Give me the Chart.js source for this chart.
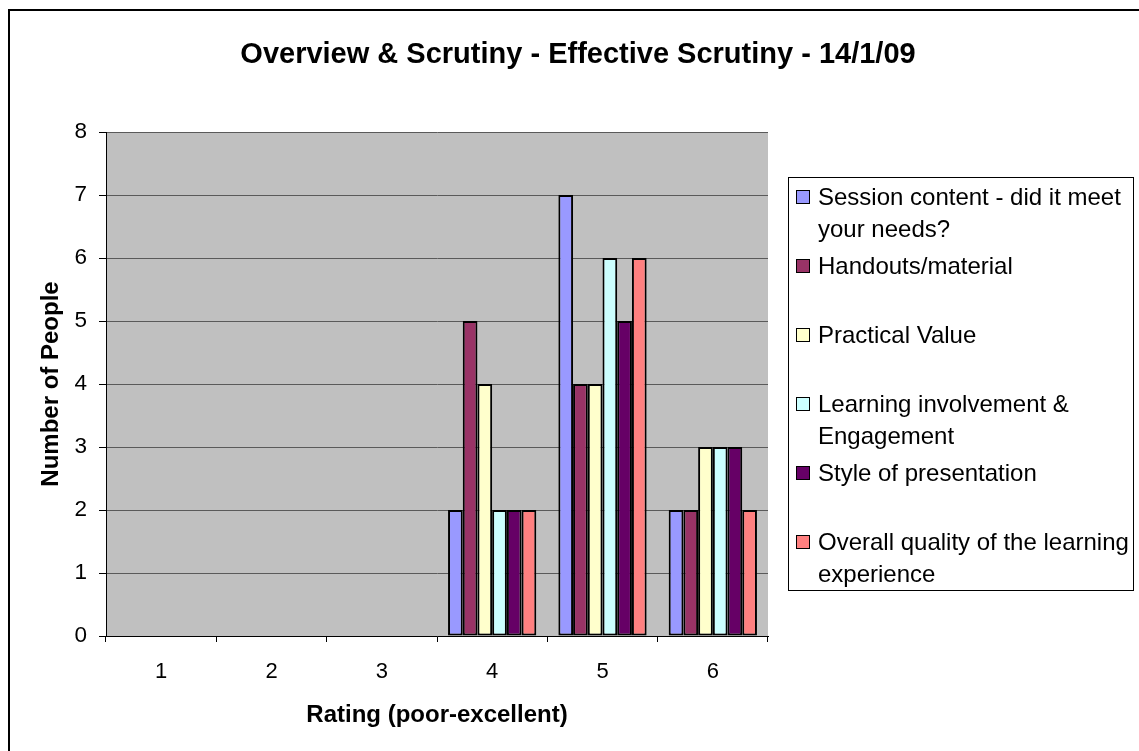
<!DOCTYPE html>
<html>
<head>
<meta charset="utf-8">
<script src="https://cdn.jsdelivr.net/npm/chart.js@4.4.1/dist/chart.umd.min.js"></script>
<style>
html,body{margin:0;padding:0;background:#fff;}
#wrap{position:relative;width:1139px;height:751px;overflow:hidden;}
#c{position:absolute;left:0;top:0;}
#legend{position:absolute;left:788px;top:177px;width:346px;height:414px;border:1px solid #000;box-sizing:border-box;background:#fff;font-family:"Liberation Sans",Arial,sans-serif;font-size:24px;color:#000;}
.item{position:absolute;left:29px;width:318px;line-height:32px;}
.mk{position:absolute;left:-22px;top:9px;width:12px;height:12px;border:1px solid #000;}
</style>
</head>
<body>
<div id="wrap">
<canvas id="c" width="1139" height="751"></canvas>
<div id="legend"></div>
</div>
<script>
// ----- data -----
const categories = ['1', '2', '3', '4', '5', '6'];
const seriesNames = [
  'Session content - did it meet your needs?',
  'Handouts/material',
  'Practical Value',
  'Learning involvement & Engagement',
  'Style of presentation',
  'Overall quality of the learning experience'
];
const sessionContent      = [0, 0, 0, 2, 7, 2];
const handoutsMaterial    = [0, 0, 0, 5, 4, 2];
const practicalValue      = [0, 0, 0, 4, 4, 3];
const learningInvolvement = [0, 0, 0, 2, 6, 3];
const styleOfPresentation = [0, 0, 0, 2, 5, 3];
const overallQuality      = [0, 0, 0, 2, 6, 2];
const yTicks = [0, 1, 2, 3, 4, 5, 6, 7, 8];
const titleText = 'Overview & Scrutiny - Effective Scrutiny - 14/1/09';
const xTitle = 'Rating (poor-excellent)';
const yTitle = 'Number of People';

const seriesValues = [sessionContent, handoutsMaterial, practicalValue, learningInvolvement, styleOfPresentation, overallQuality];
const colors = ['#9999FF', '#993366', '#FFFFCC', '#CCFFFF', '#660066', '#FF8080'];

const FONT = '"Liberation Sans", Arial, sans-serif';

const bgPlugin = {
  id: 'bg',
  beforeDraw(chart) {
    const ctx = chart.ctx;
    const a = chart.chartArea;
    ctx.save();
    ctx.fillStyle = '#ffffff';
    ctx.fillRect(0, 0, chart.width, chart.height);
    ctx.strokeStyle = '#000';
    ctx.lineWidth = 2;
    ctx.strokeRect(9, 10, chart.width + 20, chart.height + 20);
    ctx.fillStyle = '#C0C0C0';
    ctx.fillRect(a.left, a.top, a.right - a.left, a.bottom - a.top);
    ctx.restore();
  },
  afterDraw(chart) {
    const ctx = chart.ctx;
    ctx.save();
    ctx.fillStyle = '#000';
    ctx.font = 'bold 29px ' + FONT;
    ctx.textAlign = 'center';
    ctx.textBaseline = 'middle';
    ctx.fillText(titleText, 578, 55);
    ctx.restore();
  }
};

const chart = new Chart(document.getElementById('c'), {
  type: 'bar',
  data: {
    labels: categories,
    datasets: seriesNames.map((name, i) => ({
      label: name,
      data: seriesValues[i],
      backgroundColor: colors[i],
      borderColor: '#000',
      borderWidth: 2,
      borderSkipped: false,
      categoryPercentage: 0.8,
      barPercentage: 1.0
    }))
  },
  options: {
    responsive: false,
    animation: false,
    devicePixelRatio: 1,
    layout: { padding: { left: 0, right: 371, top: 132, bottom: 0 } },
    plugins: {
      legend: { display: false },
      tooltip: { enabled: false },
      title: { display: false }
    },
    scales: {
      x: {
        afterFit(s) { s.height = 115; },
        grid: { display: true, drawOnChartArea: false, drawTicks: true, tickLength: 6, tickColor: '#000', offset: true },
        border: { display: true, color: '#000', width: 1 },
        ticks: { color: '#000', font: { family: FONT, size: 22 }, padding: 17, maxRotation: 0 },
        title: { display: true, text: xTitle, color: '#000', font: { family: FONT, size: 24, weight: 'bold', lineHeight: 1.2 }, padding: { top: 0, bottom: 21.6 } }
      },
      y: {
        min: 0,
        max: 8,
        afterFit(s) { s.width = 106; },
        afterBuildTicks(s) { s.ticks = yTicks.map(v => ({ value: v })); },
        grid: { color: '#5a5a5a', lineWidth: 1, drawTicks: true, tickLength: 7, tickColor: '#000' },
        border: { display: true, color: '#000', width: 1 },
        ticks: { color: '#000', font: { family: FONT, size: 22.5 }, padding: 12 },
        title: { display: true, text: yTitle, color: '#000', font: { family: FONT, size: 24, weight: 'bold', lineHeight: 1.2 }, padding: { top: 36.6, bottom: 0 } }
      }
    }
  },
  plugins: [bgPlugin]
});

// HTML legend built from the series
const legend = document.getElementById('legend');
seriesNames.forEach((name, i) => {
  const item = document.createElement('div');
  item.className = 'item';
  item.style.top = (3 + 69 * i) + 'px';
  const mk = document.createElement('span');
  mk.className = 'mk';
  mk.style.background = colors[i];
  item.appendChild(mk);
  item.appendChild(document.createTextNode(name));
  legend.appendChild(item);
});
</script>
</body>
</html>
